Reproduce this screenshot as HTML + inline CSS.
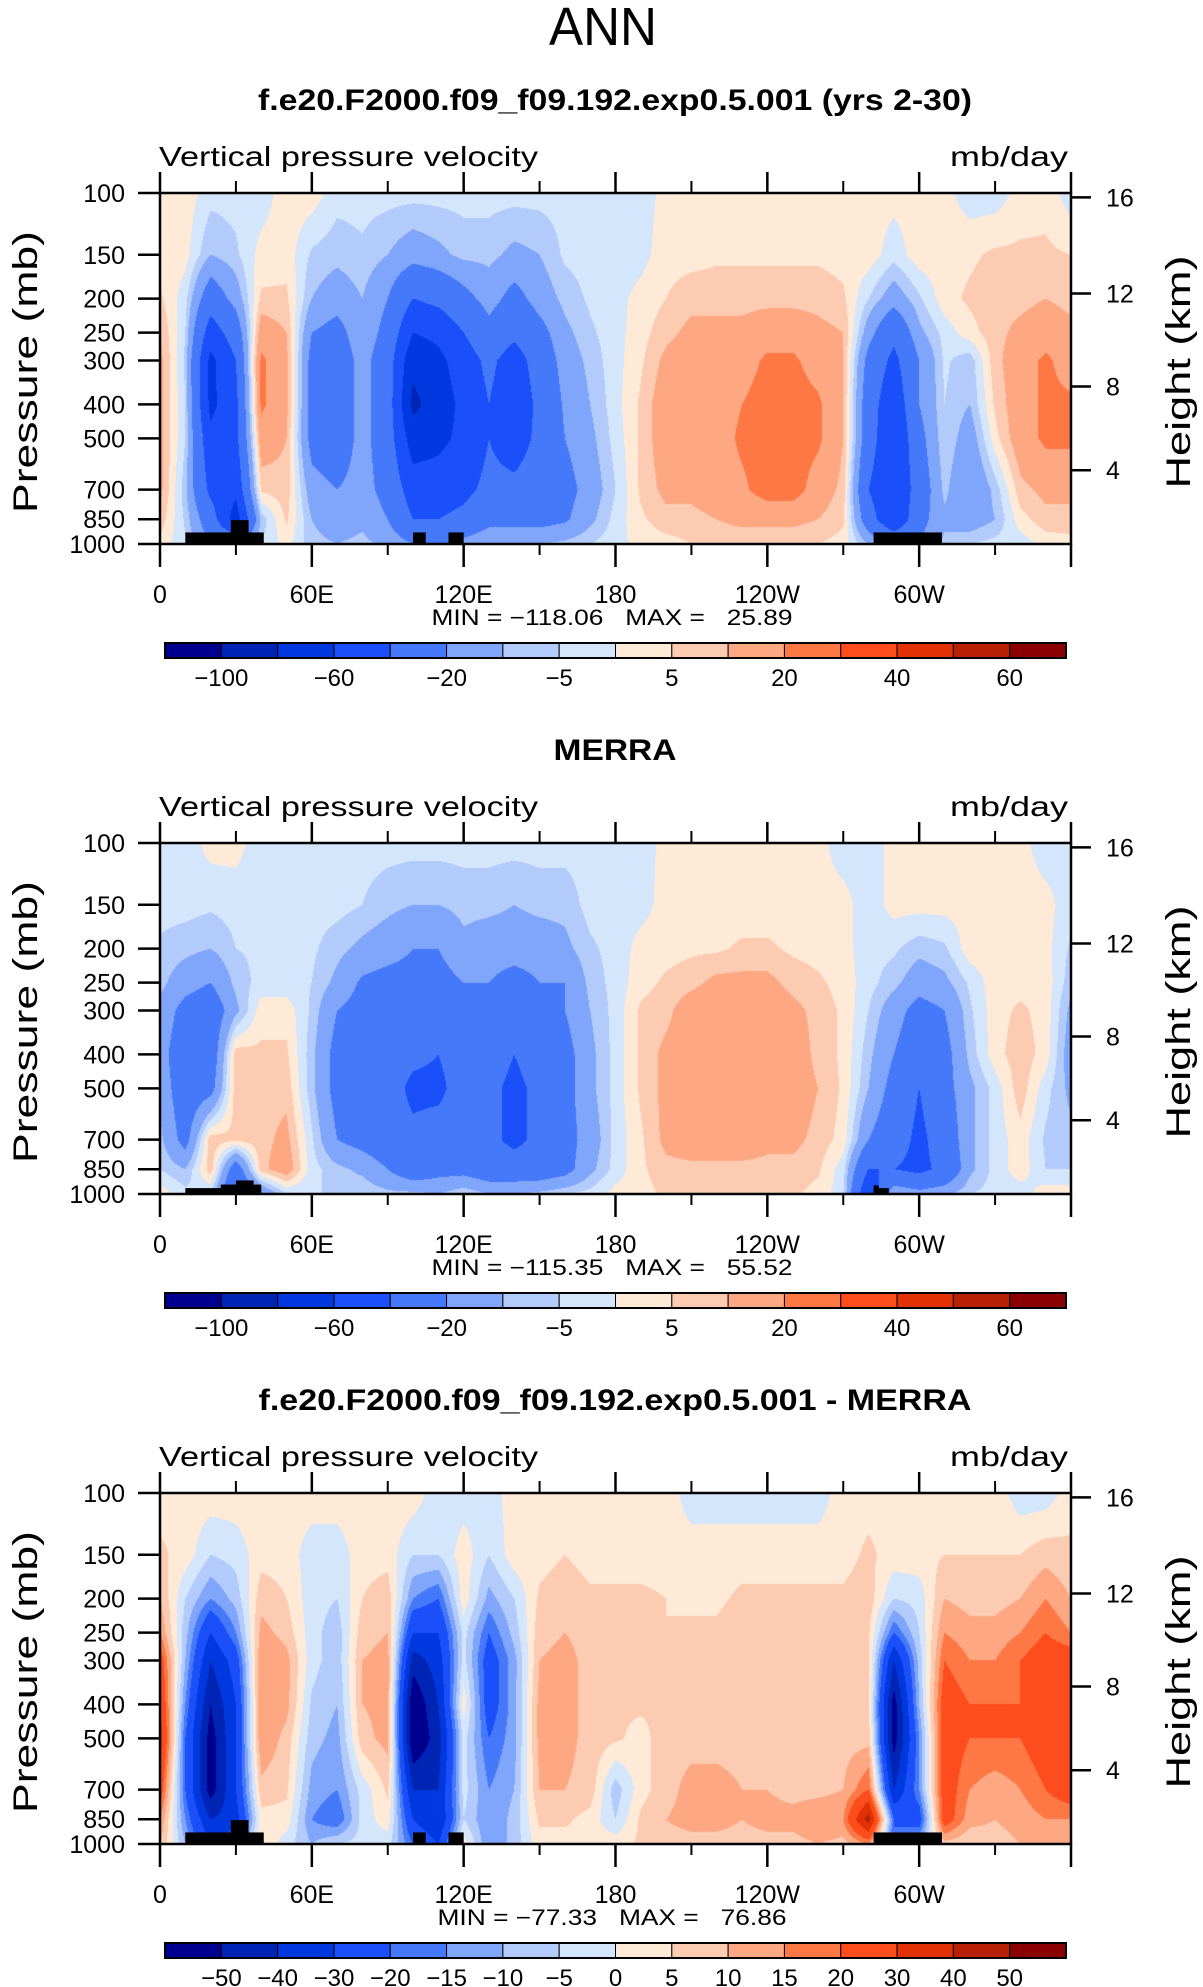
<!DOCTYPE html>
<html><head><meta charset="utf-8">
<style>
body{margin:0;background:#fff;}
#wrap{position:relative;width:1203px;height:1987px;overflow:hidden;background:#fff;font-family:"Liberation Sans",sans-serif;}
canvas{position:absolute;}
#ov{position:absolute;left:0;top:0;}
text{font-family:"Liberation Sans",sans-serif;fill:#000;white-space:pre;}
</style></head>
<body>
<div id="wrap">
<canvas id="c1" width="911" height="351" style="left:160px;top:193px"></canvas>
<canvas id="c2" width="911" height="351" style="left:160px;top:843px"></canvas>
<canvas id="c3" width="911" height="351" style="left:160px;top:1493px"></canvas>
<svg id="ov" width="1203" height="1987">
<text x="603" y="45" text-anchor="middle" font-size="54" textLength="108" lengthAdjust="spacingAndGlyphs">ANN</text>
</svg>
</div>
<script>
const levels=[1000,850,700,500,400,300,250,200,150,100];
const lons=[0,10,20,30,40,50,60,70,80,90,100,110,120,130,140,150,160,170,180,190,200,210,220,230,240,250,260,270,280,290,300,310,320,330,340,350,360];
const modelVals=[
[3,8,12,12,12,12,10,6,3,3],[-4,-6,-8,-5,-5,-6,-5,-3,2,3],[-20,-30,-45,-55,-65,-65,-50,-30,-10,-3],[-20,-70,-55,-45,-45,-40,-30,-15,-6,-3],
[-5,-8,6,15,22,22,15,6,2,-3],[2,6,8,10,12,12,10,6,3,3],[-8,-10,-15,-25,-25,-25,-20,-10,-6,3],[-10,-15,-20,-30,-30,-30,-25,-15,-8,-3],
[-8,-12,-15,-15,-15,-15,-12,-10,-6,-3],[-12,-20,-25,-30,-30,-30,-25,-20,-10,-3],[-20,-40,-50,-70,-85,-75,-60,-40,-15,-3],[-25,-40,-50,-65,-70,-65,-55,-35,-12,-3],
[-15,-35,-45,-55,-55,-50,-40,-25,-8,-3],[-10,-25,-35,-40,-40,-35,-25,-15,-8,-3],[-10,-25,-35,-50,-55,-50,-35,-25,-12,-3],[-10,-25,-30,-35,-35,-30,-25,-15,-10,-3],
[-8,-22,-25,-20,-18,-15,-12,-8,-4,-3],[-5,-12,-15,-12,-10,-8,-6,-4,-3,-3],[-2,-3,-5,-3,-2,-2,-2,-2,-3,-3],[2,4,6,6,6,4,3,2,-2,-3],
[3,8,12,15,15,12,8,5,3,2],[5,8,12,15,15,15,12,8,3,2],[6,10,15,15,15,15,12,8,4,2],[6,12,18,22,20,15,12,8,4,2],
[6,12,25,25,25,22,15,8,4,2],[6,12,25,25,25,22,15,8,4,2],[5,10,15,22,22,15,12,8,4,2],[3,6,8,10,10,10,10,6,3,2],
[-10,-30,-40,-30,-30,-25,-15,-5,3,2],[-20,-60,-60,-60,-55,-45,-35,-15,-3,2],[-20,-25,-30,-25,-20,-20,-12,-6,3,2],[-8,-12,-8,-5,-5,-4,-3,3,3,2],
[-5,-15,-20,-15,-10,-8,3,6,4,-3],[-3,-10,-8,3,6,8,8,8,6,-3],[-3,3,8,15,15,15,12,8,6,2],[2,8,12,22,22,22,15,10,6,3],
[3,8,12,22,22,15,12,8,5,-3]];
const merraVals=[
[3,-5,-8,-12,-15,-12,-8,-6,-3,-3],[-3,-10,-25,-30,-30,-25,-15,-8,-3,-3],[-5,8,8,-25,-30,-30,-20,-10,-4,2],[-40,-30,6,8,8,-12,-8,-5,-3,2],
[-20,8,8,8,6,3,-3,-4,-3,-3],[-5,15,12,8,6,3,-3,-4,-3,-3],[-5,-3,-4,-8,-8,-6,-5,-4,-3,-3],[-5,-8,-20,-25,-25,-20,-12,-8,-3,-3],
[-5,-12,-25,-30,-30,-25,-22,-12,-5,-3],[-8,-20,-30,-30,-30,-30,-25,-15,-8,-3],[-8,-30,-35,-45,-35,-30,-25,-20,-10,-3],[-10,-25,-30,-45,-40,-30,-25,-20,-10,-3],
[-5,-25,-30,-30,-30,-25,-20,-12,-8,-3],[-10,-30,-35,-35,-30,-25,-20,-15,-8,-3],[-10,-30,-45,-45,-40,-30,-25,-15,-10,-3],[-8,-30,-35,-35,-30,-25,-20,-15,-8,-3],
[-5,-25,-25,-25,-25,-20,-20,-12,-8,-3],[-3,-12,-15,-12,-12,-10,-8,-6,-3,-3],[2,-3,-3,-3,-3,-3,-3,-3,-3,-3],[3,4,4,6,6,6,3,2,-2,-3],
[6,8,12,12,12,8,6,3,2,2],[6,8,15,15,15,15,8,4,2,2],[8,8,15,15,15,15,12,4,2,2],[8,8,15,15,15,15,12,6,2,2],
[8,8,12,15,15,15,12,6,2,2],[6,8,12,15,15,12,8,4,2,2],[3,6,8,10,8,8,6,3,2,2],[-3,-3,3,4,4,4,3,2,2,-3],
[-60,-40,-20,-10,-8,-5,-3,-3,-3,-3],[-10,-40,-30,-25,-20,-15,-8,-4,2,2],[-15,-45,-45,-40,-30,-25,-15,-8,2,2],[-12,-35,-30,-25,-25,-20,-12,-6,2,2],
[-5,-12,-12,-12,-8,-6,-4,3,2,2],[-3,-3,-3,-3,3,3,3,3,2,2],[-3,3,3,8,8,6,3,3,2,2],[3,-5,-6,-3,3,3,3,2,2,-3],
[3,-5,-8,-12,-15,-12,-8,-6,-3,-3]];
const diffVals=[
[10,15,25,35,30,25,15,10,6,3],[-10,-15,-20,-20,-15,-10,-8,-5,3,3],[-30,-40,-55,-55,-50,-40,-30,-15,-5,3],[-20,-35,-30,-30,-30,-25,-15,-8,-3,3],
[5,3,8,15,15,15,12,8,3,3],[-3,3,6,8,12,12,8,5,3,3],[-10,-15,-12,-8,-6,-3,-3,-3,-3,3],[-5,-20,-15,-12,-10,-8,-8,-5,-3,3],
[-3,-3,-3,8,10,10,8,5,3,3],[-3,3,6,12,12,12,10,8,3,3],[-20,-30,-40,-60,-60,-45,-30,-15,-5,3],[-30,-40,-40,-45,-40,-35,-30,-20,-5,-3],
[3,-5,-3,-3,3,-3,-3,3,3,-3],[-15,-15,-15,-20,-25,-25,-20,-12,-5,-3],[-8,-8,-10,-12,-12,-12,-8,-5,3,3],[3,6,10,12,12,10,8,6,3,3],
[3,6,10,12,12,12,10,8,5,3],[3,3,8,8,8,8,8,6,3,3],[3,-5,-8,6,6,6,6,6,3,3],[6,6,3,3,6,6,6,6,3,3],
[8,10,8,8,6,6,5,5,3,3],[8,12,12,8,8,6,6,4,3,-3],[8,12,12,8,8,6,6,4,3,-3],[8,10,10,8,8,8,8,6,3,-3],
[8,12,10,8,8,8,8,6,3,-3],[8,12,8,8,8,8,8,6,3,-3],[10,15,8,8,8,8,8,6,3,-3],[8,15,10,8,8,8,8,6,3,3],
[15,45,20,8,6,6,6,8,6,3],[-20,-20,-40,-55,-55,-40,-20,-5,3,3],[-10,-25,-15,-15,-10,-8,-5,-3,3,3],[8,25,25,25,25,20,15,10,5,3],
[6,12,15,20,20,15,12,8,5,3],[8,10,12,20,20,15,12,8,5,3],[10,12,15,20,20,20,15,10,5,-3],[12,15,20,25,25,25,20,15,8,-3],
[10,15,25,30,30,25,15,10,6,3]];
const absBounds=[-100,-80,-60,-40,-20,-10,-5,0,5,10,20,30,40,50,60];
const absLabels=["−100","","−60","","−20","","−5","","5","","20","","40","","60"];
const diffBounds=[-50,-40,-30,-20,-15,-10,-5,0,5,10,15,20,30,40,50];
const diffLabels=["−50","−40","−30","−20","−15","−10","−5","0","5","10","15","20","30","40","50"];
const topoModel=[[10,41,927],[28,35,855],[100,105,927],[114,120,927],[282,309,927]];
const topoMerra=[[10,40,962],[24,40,940],[30,37,915],[282,288,962],[282,284,945]];
const pLabels=[100,150,200,250,300,400,500,700,850,1000];
const kmLabels=[16,12,8,4];
const lonMajor=[0,60,120,180,240,300,360];
const lonMinor=[30,90,150,210,270,330];
const lonLabels=["0","60E","120E","180","120W","60W"];
const minmax=["MIN = −118.06   MAX =   25.89","MIN = −115.35   MAX =   55.52","MIN = −77.33   MAX =   76.86"];
const colors=["#00008f","#0025b5","#0038e0","#1a4ffa","#4579fa","#80a6fb","#b3cbfb","#d4e6fc","#ffe9d7","#fdcbb2","#fda883","#fd7845","#fd4d1c","#e23104","#b82004","#8b0000"];

const X0=160,W=911,H=351;
const NS="http://www.w3.org/2000/svg";
const ov=document.getElementById('ov');
function xOf(lon){return X0+lon/360*W;}
function yOf(T,p){return T+H*Math.log10(p/100);}
function kmToP(z){ if(z<=11) return 1013.25*Math.pow(1-2.25577e-5*z*1000,5.25588); return 226.32*Math.exp(-(z-11)*1000/6341.6);}
function hex(c){return [parseInt(c.substr(1,2),16),parseInt(c.substr(3,2),16),parseInt(c.substr(5,2),16)];}
const rgb=colors.map(hex);
function mk(tag,attrs,txt){const e=document.createElementNS(NS,tag);for(const k in attrs)e.setAttribute(k,attrs[k]);if(txt!==undefined)e.textContent=txt;ov.appendChild(e);return e;}

function fillField(id,vals,bounds){
  const cv=document.getElementById(id),ctx=cv.getContext('2d');
  const img=ctx.createImageData(W,H);const lp=levels.map(v=>Math.log10(v));
  for(let y=0;y<H;y++){
    const l=2+(y+0.5)/H;let k=0;
    while(k<levels.length-2&&lp[k+1]>l)k++;
    let t=(lp[k]-l)/(lp[k]-lp[k+1]);t=Math.max(0,Math.min(1,t));
    for(let x=0;x<W;x++){
      const lon=(x+0.5)/W*360;let i=Math.min(Math.floor(lon/10),lons.length-2);const f=(lon-lons[i])/10;
      const a=vals[i][k]*(1-t)+vals[i][k+1]*t,b=vals[i+1][k]*(1-t)+vals[i+1][k+1]*t;
      const v=a*(1-f)+b*f;let c=0;while(c<bounds.length&&v>=bounds[c])c++;
      const o=(y*W+x)*4,col=rgb[c];img.data[o]=col[0];img.data[o+1]=col[1];img.data[o+2]=col[2];img.data[o+3]=255;
    }
  }
  ctx.putImageData(img,0,0);
}

function panel(T,title,vals,bounds,labels,topo,mm,idx){
  fillField('c'+idx,vals,bounds);
  let e;
  e=mk('text',{x:615,y:T-83,'text-anchor':'middle','font-size':30,'font-weight':'bold',textLength:title.len,lengthAdjust:'spacingAndGlyphs'},title.t);
  
  
  e=mk('text',{x:159,y:T-27,'font-size':28,textLength:379,lengthAdjust:'spacingAndGlyphs'},'Vertical pressure velocity');
  
  
  e=mk('text',{x:1068,y:T-27,'font-size':28,'text-anchor':'end',textLength:118,lengthAdjust:'spacingAndGlyphs'},'mb/day');
  
  
  topo.forEach(b=>{
    e=mk('rect',{x:xOf(b[0]),y:yOf(T,b[2]),width:xOf(b[1])-xOf(b[0]),height:T+H-yOf(T,b[2]),fill:'#000'});
    
    
  });
  e=mk('rect',{x:X0,y:T,width:W,height:H,fill:'none',stroke:'#000','stroke-width':2.5});
  
  
  lonMajor.forEach(l=>{
    e=mk('line',{x1:xOf(l),x2:xOf(l),y1:T-21,y2:T,stroke:'#000','stroke-width':2.5});
    
    
    e=mk('line',{x1:xOf(l),x2:xOf(l),y1:T+H,y2:T+H+23,stroke:'#000','stroke-width':2.5});
    
    
  });
  lonMinor.forEach(l=>{
    e=mk('line',{x1:xOf(l),x2:xOf(l),y1:T-12,y2:T,stroke:'#000','stroke-width':2});
    
    
    e=mk('line',{x1:xOf(l),x2:xOf(l),y1:T+H,y2:T+H+11,stroke:'#000','stroke-width':2});
    
    
  });
  lonLabels.forEach((s,i)=>{
    e=mk('text',{x:xOf(lonMajor[i]),y:T+H+59,'text-anchor':'middle','font-size':25},s);
    
    
  });
  pLabels.forEach(p=>{
    const y=yOf(T,p);
    e=mk('line',{x1:138,x2:X0,y1:y,y2:y,stroke:'#000','stroke-width':2.5});
    
    
    e=mk('text',{x:125,y:y+9,'text-anchor':'end','font-size':25},String(p));
    
    
  });
  kmLabels.forEach(z=>{
    const y=yOf(T,kmToP(z));
    e=mk('line',{x1:X0+W,x2:X0+W+20,y1:y,y2:y,stroke:'#000','stroke-width':2.5});
    
    
    e=mk('text',{x:1106,y:y+9,'font-size':25},String(z));
    
    
  });
  e=mk('text',{x:0,y:0,'font-size':34,'text-anchor':'middle',textLength:282,lengthAdjust:'spacingAndGlyphs',transform:`translate(37,${T+179}) rotate(-90)`},'Pressure (mb)');
  
  
  e=mk('text',{x:0,y:0,'font-size':34,'text-anchor':'middle',textLength:233,lengthAdjust:'spacingAndGlyphs',transform:`translate(1190,${T+179}) rotate(-90)`},'Height (km)');
  
  
  e=mk('text',{x:612,y:T+432,'text-anchor':'middle','font-size':22,textLength:mm.len,lengthAdjust:'spacingAndGlyphs'},mm.t);
  
  
  const cx0=165,cx1=1066,bw=(cx1-cx0)/colors.length,cy=T+450;
  colors.forEach((c,i)=>{
    e=mk('rect',{x:cx0+i*bw,y:cy,width:bw,height:15,fill:c,stroke:'#000','stroke-width':1});
    
    
  });
  e=mk('rect',{x:cx0,y:cy,width:cx1-cx0,height:15,fill:'none',stroke:'#000','stroke-width':2});
  
  
  labels.forEach((s,i)=>{
    if(!s)return;
    e=mk('text',{x:cx0+(i+1)*bw,y:T+493,'text-anchor':'middle','font-size':24},s);
    
    
  });
}
panel(193,{t:'f.e20.F2000.f09_f09.192.exp0.5.001 (yrs 2-30)',len:714},modelVals,absBounds,absLabels,topoModel,{t:minmax[0],len:361},1);
panel(843,{t:'MERRA',len:123},merraVals,absBounds,absLabels,topoMerra,{t:minmax[1],len:361},2);
panel(1493,{t:'f.e20.F2000.f09_f09.192.exp0.5.001 - MERRA',len:713},diffVals,diffBounds,diffLabels,topoModel,{t:minmax[2],len:349},3);
</script>
</body></html>
